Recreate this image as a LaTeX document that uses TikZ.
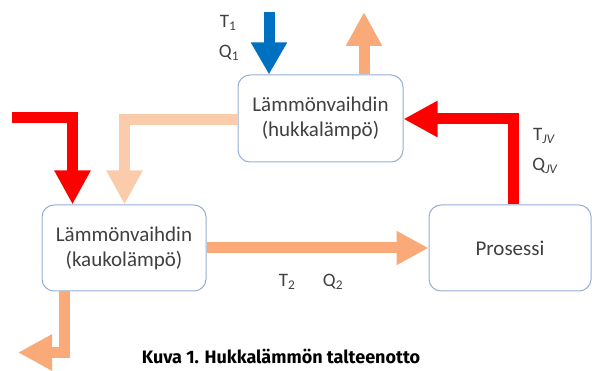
\documentclass[tikz,border=0pt]{standalone}
\usepackage{fontspec}
\setmainfont{Carlito}
\newfontfamily\capfont{Fira Sans}
\usetikzlibrary{arrows.meta}
\definecolor{cred}{RGB}{255,0,0}
\definecolor{cblue}{RGB}{0,112,192}
\definecolor{corange}{RGB}{250,170,120}
\definecolor{cpeach}{RGB}{251,204,172}
\definecolor{cborder}{RGB}{150,175,215}
\definecolor{ctext}{RGB}{64,64,64}
\tikzset{
  boxnode/.style={draw=cborder, line width=1pt, rounded corners=12pt, fill=white, text=ctext,
    align=center, font=\fontsize{21}{25}\selectfont, inner sep=0pt},
  flow/.style={line width=11pt, line join=miter, line cap=butt,
    -{Triangle[width=34pt,length=34pt]}},
  lbl/.style={text=ctext, font=\fontsize{19}{22}\selectfont, inner sep=0pt}
}
\begin{document}
\begin{tikzpicture}[x=1pt,y=-1pt]
\useasboundingbox (0,0) rectangle (592,371);
\node[boxnode, minimum width=165pt, minimum height=87pt] (top) at (320.5,118.5) {Lämmönvaihdin\\(hukkalämpö)};
\node[boxnode, minimum width=164pt, minimum height=86pt] (left) at (124,248) {Lämmönvaihdin\\(kaukolämpö)};
\node[boxnode, minimum width=162pt, minimum height=86pt] (proc) at (510,248) {Prosessi};
% coordinates
\coordinate (bs) at (269,12);
\coordinate (oe) at (364,12);
\coordinate (rc) at (513,119);
\coordinate (pc) at (124.5,119.5);
\coordinate (rs) at (12,117.5);
\coordinate (rc2) at (72.5,117.5);
\coordinate (bc) at (64.5,352.5);
\coordinate (be) at (18,352.5);
% arrows
\draw[flow, color=cblue, -{Triangle[width=34pt,length=32pt]}] (bs) -- (bs |- top.north);
\draw[flow, color=corange] (oe |- top.north) -- (oe);
\draw[flow, color=cred] (rc |- proc.north) -- (rc) -- (top.east |- rc);
\draw[flow, color=cpeach] (top.west |- pc) -- (pc) -- (pc |- left.north);
\draw[flow, color=cred] (rs) -- (rc2) -- (rc2 |- left.north);
\draw[flow, color=corange, -{Triangle[width=32pt,length=32pt]}] (left.east) -- (proc.west);
\draw[flow, color=corange] (bc |- left.south) -- (bc) -- (be);
% labels
\node[lbl] (t1) at (228,23) {T\textsubscript{1}};
\node[lbl] (q1) at (229,53) {Q\textsubscript{1}};
\node[lbl] (tjv) at (544,136) {T\textsubscript{\itshape JV}};
\node[lbl] (qjv) at (545,166) {Q\textsubscript{\itshape JV}};
\node[lbl] (t2) at (287,282) {T\textsubscript{2}};
\node[lbl] (q2) at (333,282) {Q\textsubscript{2}};
\node[inner sep=0pt, font=\capfont\bfseries\fontsize{18}{22}\selectfont] (cap) at (281,356) {Kuva 1. Hukkalämmön talteenotto};
\end{tikzpicture}
\end{document}
